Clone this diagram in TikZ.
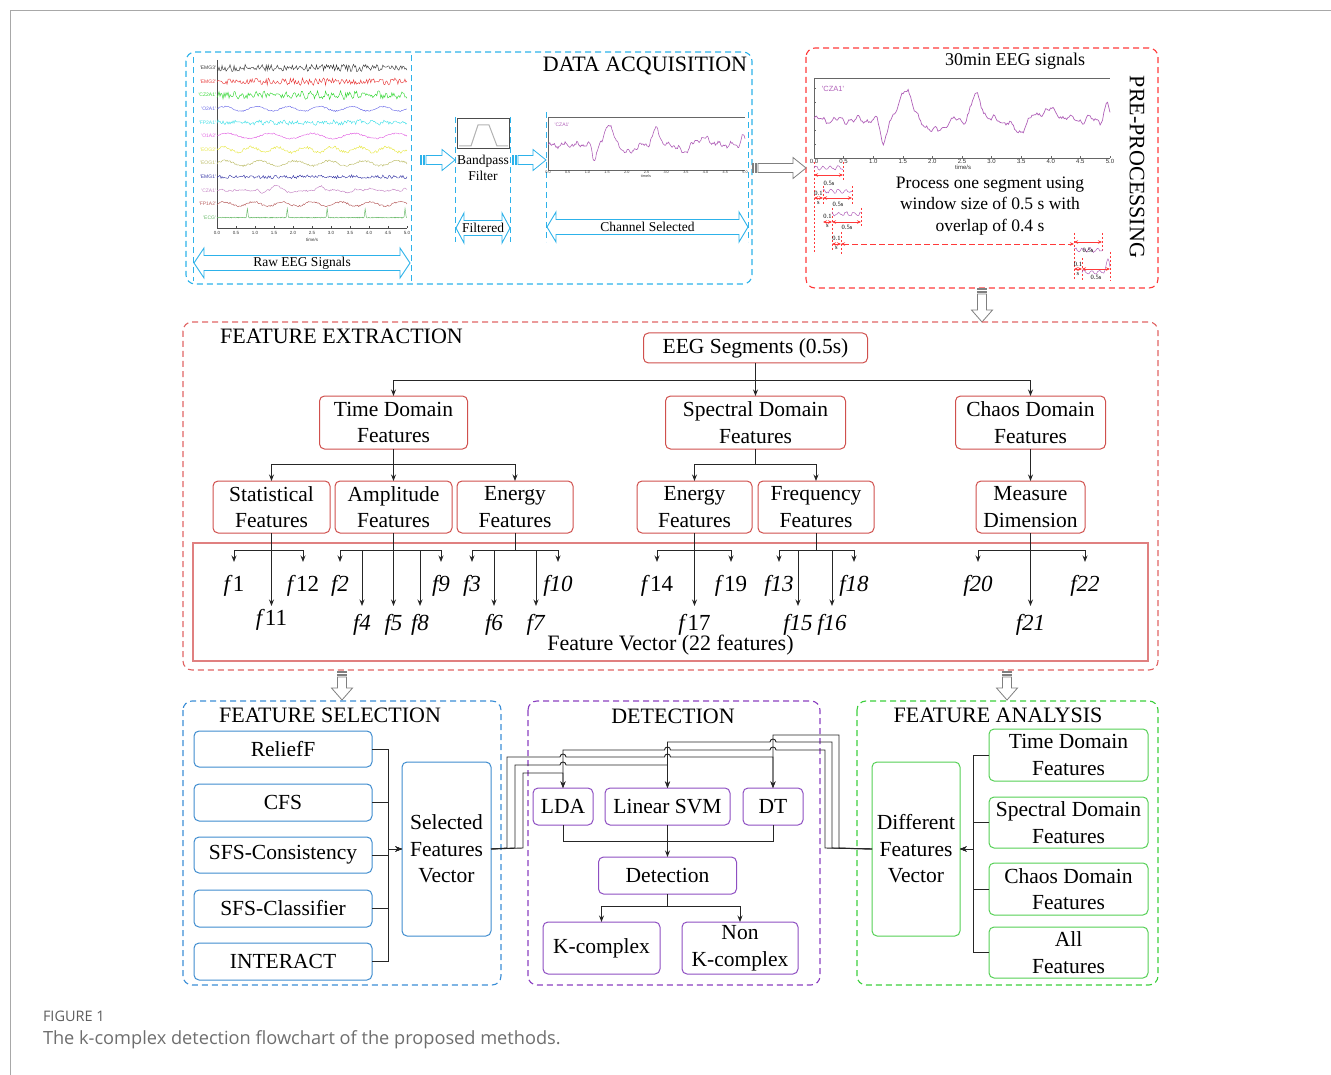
\documentclass[tikz,border=0pt]{standalone}
\usepackage{fontspec}
\setmainfont{Liberation Serif}
\newfontfamily\plotfont{Liberation Sans}
\newfontfamily\capfont{Open Sans}
\usetikzlibrary{arrows.meta}

% palette
\definecolor{acqblue}{HTML}{2DB2EA}
\definecolor{prered}{HTML}{FF3A3A}
\definecolor{extred}{HTML}{E06464}
\definecolor{boxred}{HTML}{D0504D}
\definecolor{vecred}{HTML}{E08080}
\definecolor{selblue}{HTML}{3B8ED6}
\definecolor{selbox}{HTML}{3F8CCF}
\definecolor{detpurple}{HTML}{8A3FC0}
\definecolor{detbox}{HTML}{8E4FC2}
\definecolor{anagreen}{HTML}{3CCF3C}
\definecolor{anabox}{HTML}{55D055}
\definecolor{wavepurple}{HTML}{B060B8}
\definecolor{framegray}{HTML}{A8A8A8}
\definecolor{capgray}{HTML}{6E6E6E}
\definecolor{arrowgray}{HTML}{7F7F7F}
\definecolor{ch0}{HTML}{3A3A3A}
\definecolor{ch1}{HTML}{E83C3C}
\definecolor{ch2}{HTML}{33D633}
\definecolor{ch3}{HTML}{6C6CE8}
\definecolor{ch4}{HTML}{44E0E8}
\definecolor{ch5}{HTML}{E266E2}
\definecolor{ch6}{HTML}{E8E84A}
\definecolor{ch7}{HTML}{BDBD6A}
\definecolor{ch8}{HTML}{3C3CA8}
\definecolor{ch9}{HTML}{C585C5}
\definecolor{ch10}{HTML}{B86060}
\definecolor{ch11}{HTML}{66B866}

\tikzset{
  every node/.style={inner sep=0pt, outer sep=0pt},
  box/.style={draw, rounded corners=5pt, line width=1pt, align=center, fill=white,
    font=\fontsize{21.5}{26.5}\selectfont},
  exbox/.style={box, draw=boxred},
  sbox/.style={box, draw=selbox},
  dbox/.style={box, draw=detbox},
  abox/.style={box, draw=anabox},
  conn/.style={line width=0.9pt, draw=black!85},
  arr/.style={conn, -{Stealth[length=6.5pt,width=5pt]}},
  area/.style={dash pattern=on 6pt off 4pt, line width=1.1pt, rounded corners=9pt},
  divider/.style={acqblue, line width=1pt, dash pattern=on 6pt off 4pt},
  title/.style={font=\fontsize{22}{26}\selectfont},
  flab/.style={anchor=north, font=\fontsize{23}{23}\selectfont},
  tick/.style={font=\plotfont\fontsize{4.5}{5}\selectfont, text=black!80},
  segline/.style={prered, line width=0.7pt, dash pattern=on 2.5pt off 1.5pt},
  segarr/.style={prered, line width=0.9pt, {Stealth[length=4pt,width=3.5pt]}-{Stealth[length=4pt,width=3.5pt]}},
  seglab/.style={font=\fontsize{6.5}{7}\selectfont},
  smalllab/.style={font=\fontsize{13.5}{16}\selectfont, align=center},
}

% hollow block arrow pointing right, with two bars at its tail
\newcommand{\hollowright}[4]{%
  \draw[#4, fill=white, line width=0.8pt] (#1,#3-4.5) rectangle (#1+1.6,#3+4.5);
  \draw[#4, fill=white, line width=0.8pt] (#1+3,#3-4.5) rectangle (#1+4.6,#3+4.5);
  \draw[#4, fill=white, line width=0.8pt, line join=miter] (#1+6,#3-4.5) -- (#2-13,#3-4.5)
    -- (#2-13,#3-10.5) -- (#2,#3) -- (#2-13,#3+10.5) -- (#2-13,#3+4.5) -- (#1+6,#3+4.5) -- cycle;}
% hollow block arrow pointing down, with two bars at its tail
\newcommand{\hollowdown}[4]{%
  \draw[#4, fill=white, line width=0.8pt] (#3-4.5,#1) rectangle (#3+4.5,#1+1.6);
  \draw[#4, fill=white, line width=0.8pt] (#3-4.5,#1+3) rectangle (#3+4.5,#1+4.6);
  \draw[#4, fill=white, line width=0.8pt, line join=miter] (#3-4.5,#1+6) -- (#3-4.5,#2-12)
    -- (#3-10.5,#2-12) -- (#3,#2) -- (#3+10.5,#2-12) -- (#3+4.5,#2-12) -- (#3+4.5,#1+6) -- cycle;}
% hollow double arrow with a label on its shaft
\newcommand{\dblarrow}[6]{%
  \draw[acqblue, fill=white, line width=0.9pt, line join=miter] (#2,#4) -- (#2+#6,#4-15)
    -- (#2+#6,#4-7.5) -- (#3-#6,#4-7.5) -- (#3-#6,#4-15) -- (#3,#4) -- (#3-#6,#4+15)
    -- (#3-#6,#4+7.5) -- (#2+#6,#4+7.5) -- (#2+#6,#4+15) -- cycle;
  \node[smalllab] (#1) at ({(#2+#3)/2},#4) {#5};}
% short EEG excerpt inside a window
\newcommand{\minwave}[3]{%
  \draw[wavepurple, line width=0.5pt] plot[domain=0:1, samples=28, variable=\t]
    ({#1+29*\t},{#2-1.8*sin(\t*1400+#3)-0.9*rand});}

\begin{document}
\begin{tikzpicture}[x=1pt, y=-1pt,
  declare function={
    gbz(\qz)=exp(-\qz*\qz);
    gb(\qa,\qb,\qc)=gbz(min(abs((\qa-\qb)/\qc),9));
    czw(\qt)=1.0*gb(\qt,1.55,0.13)-0.75*gb(\qt,1.17,0.06)+0.75*gb(\qt,2.75,0.12)
      -0.35*gb(\qt,2.05,0.18)-0.35*gb(\qt,3.45,0.15)+0.3*gb(\qt,3.95,0.25)
      +0.45*gb(\qt,4.95,0.06)+0.08*sin(\qt*1100)+0.05*sin(\qt*2500+30);
    ecgf(\qt)=gb(\qt,0.8,0.018)+gb(\qt,1.85,0.018)+gb(\qt,2.9,0.018)+gb(\qt,3.9,0.018)+gb(\qt,4.95,0.018);
  }]
\useasboundingbox (0,0) rectangle (1331,1075);
\pgfmathsetseed{17}

% page frame
\draw[framegray, line width=1pt] (10,1075) -- (10,11) -- (1331,11);

% ================= DATA ACQUISITION =================
\draw[area, acqblue] (186,52) rectangle (752,284);
\node[title] (tacq) at (645,66) {DATA ACQUISITION};
\draw[divider] (193,57) -- (193,281);
\draw[divider] (411,55) -- (411,281);
\draw[divider] (455,117) -- (455,242);
\draw[divider] (510,117) -- (510,242);
\draw[divider] (546,112) -- (546,242);
\draw[divider] (748,112) -- (748,242);

% raw multichannel recording
\draw[black!70, line width=0.5pt] (217,60) -- (217,228) -- (407,228);
\foreach \k/\tl in {0/0.0,1/0.5,2/1.0,3/1.5,4/2.0,5/2.5,6/3.0,7/3.5,8/4.0,9/4.5,10/5.0}{
  \draw[black!70, line width=0.4pt] (217+19*\k,228) -- (217+19*\k,226);
  \node[tick] (rtk\k) at (217+19*\k,232.5) {\tl};
}
\node[tick] (rtime) at (312,240) {time/s};
\foreach \i/\lab/\na/\sa/\fr/\cw in {0/EMG3/3.2/0.6/7/0, 1/EMG2/3.2/0.6/9/0,
   2/CZ2A1/3.0/1.5/5/0, 3/O2A1/0.6/2.2/1.2/0, 4/FP2A1/2.0/1.0/3/0, 5/O1A2/0.7/2.6/0.9/0,
   6/EOG2/1.3/2.6/1.4/0, 7/EOG1/1.0/2.4/1.1/0, 8/EMG1/1.6/0.4/6/0, 9/CZA1/0.7/0.6/2/5,
   10/FP1A2/0.9/2.2/1.3/0}{
  \draw[color=ch\i, line width=0.45pt] plot[domain=0:5, samples=190, variable=\t]
    ({217+38*\t},{68+13.6*\i-\sa*sin(\fr*\t*360)-\na*rand-\cw*czw(\t)});
  \node[anchor=east, font=\plotfont\fontsize{5}{5}\selectfont, text=ch\i] (chl\i)
    at (216,68+13.6*\i) {\textquotesingle\lab\textquotesingle};
}
\draw[color=ch11, line width=0.45pt] plot[domain=0:5, samples=401, variable=\t]
  ({217+38*\t},{217.6-9*ecgf(\t)-0.4*rand});
\node[anchor=east, font=\plotfont\fontsize{5}{5}\selectfont, text=ch11] (chl11)
  at (216,217.6) {\textquotesingle ECG\textquotesingle};
\dblarrow{rawlab}{194}{410}{263}{Raw EEG Signals}{10}

% band-pass filter
\hollowright{420}{455}{160}{acqblue}
\node[draw=black!70, line width=0.8pt, minimum width=52pt, minimum height=30pt] (bpf) at (483,133.5) {};
\draw[black!30, line width=1pt] (459,146) -- (471,146) -- (478,125) -- (489,125) -- (497,146) -- (508,146);
\node[smalllab] (bplab) at (483,168) {Bandpass\\Filter};
\dblarrow{filtlab}{456}{510}{228}{Filtered}{8}

% selected channel
\hollowright{512}{546}{160}{acqblue}
\draw[black!60, line width=0.5pt] (548,117) -- (745,117);
\draw[black!60, line width=0.5pt] (548,117) -- (548,170) -- (745,170);
\foreach \k/\tl in {0/0.0,1/0.5,2/1.0,3/1.5,4/2.0,5/2.5,6/3.0,7/3.5,8/4.0,9/4.5,10/5.0}{
  \node[tick, font=\plotfont\fontsize{3.8}{4}\selectfont] (ctk\k) at (548+19.7*\k,172.5) {\tl};
}
\node[tick, font=\plotfont\fontsize{3.8}{4}\selectfont] (ctime) at (646,176.5) {time/s};
\draw[wavepurple, line width=0.6pt] plot[domain=0:5, samples=220, variable=\t]
  ({548+39.4*\t},{145-22*czw(\t)-1.2*rand});
\node[font=\plotfont\fontsize{5}{5}\selectfont, text=wavepurple] (clab) at (562,125) {\textquotesingle CZA1\textquotesingle};
\dblarrow{chanlab}{547}{748}{227}{Channel Selected}{9}

% ================= PRE-PROCESSING =================
\draw[area, prered] (806,48) rectangle (1158,288);
\node[font=\fontsize{18}{22}\selectfont] (tmin) at (1015,61) {30min EEG signals};
\node[title, rotate=-90] (tpre) at (1137,167) {PRE-PROCESSING};
\hollowright{752}{806}{168}{arrowgray}
\draw[black!60, line width=0.5pt] (814,78) -- (1110,78);
\draw[black!60, line width=0.5pt] (814,78) -- (814,158) -- (1110,158);
\foreach \k/\tl in {0/0.0,1/0.5,2/1.0,3/1.5,4/2.0,5/2.5,6/3.0,7/3.5,8/4.0,9/4.5,10/5.0}{
  \draw[black!60, line width=0.4pt] (814+29.6*\k,158) -- (814+29.6*\k,156);
  \node[tick, font=\plotfont\fontsize{6}{6}\selectfont] (ptk\k) at (814+29.6*\k,161.5) {\tl};
}
\foreach \k in {0,...,5}{\draw[black!60, line width=0.4pt] (814,88+14*\k) -- (816,88+14*\k);}
\node[tick, font=\plotfont\fontsize{6}{6}\selectfont] (ptime) at (963,167.5) {time/s};
\draw[wavepurple, line width=0.7pt] plot[domain=0:5, samples=240, variable=\t]
  ({814+59.2*\t},{120-33*czw(\t)-1.4*rand});
\node[font=\plotfont\fontsize{7.5}{8}\selectfont, text=wavepurple] (plab) at (833,89) {\textquotesingle CZA1\textquotesingle};

% sliding windows
\draw[segline] (814,162) -- (814,254);
\draw[segline] (843,162) -- (843,180);
\minwave{814}{168}{0}
\draw[segarr] (814,175) -- (843,175);
\node[seglab] (w1) at (829,183) {0.5s};
\draw[segline] (823,186) -- (823,205);
\draw[segline] (852,186) -- (852,205);
\minwave{823}{191}{60}
\draw[segarr] (814,198) -- (823,198);
\draw[segarr] (823,198) -- (852,198);
\node[seglab] (o1a) at (818.5,193) {0.1};
\node[seglab] (o1b) at (818.5,203) {s};
\node[seglab] (w2) at (838,204) {0.5s};
\draw[segline] (832,208) -- (832,252);
\draw[segline] (861,208) -- (861,228);
\minwave{832}{214}{120}
\draw[segarr] (823,222) -- (832,222);
\draw[segarr] (832,222) -- (861,222);
\node[seglab] (o2a) at (827.5,216) {0.1};
\node[seglab] (o2b) at (827.5,226) {s};
\node[seglab] (w3) at (847,227) {0.5s};
\draw[segline] (841,232) -- (841,254);
\draw[segarr] (832,244) -- (841,244);
\node[seglab] (o3a) at (836.5,238) {0.1};
\node[seglab] (o3b) at (836.5,248) {s};
\draw[segarr, dash pattern=on 6pt off 3pt] (841,244) -- (1074,244);
\draw[segline] (1074,233) -- (1074,281);
\draw[segline] (1102,233) -- (1102,252);
\minwave{1074}{250}{30}
\draw[segarr] (1074,242) -- (1102,242);
\node[seglab] (w4) at (1088,250) {0.5s};
\draw[segline] (1082,258) -- (1082,281);
\draw[segline] (1110,252) -- (1110,281);
\draw[wavepurple, line width=0.5pt] plot[domain=0:1, samples=28, variable=\t]
  ({1082+28*\t},{272-1.5*sin(\t*1300)-0.8*rand-12*gb(\t,0.93,0.08)});
\draw[segarr] (1074,269) -- (1082,269);
\draw[segarr] (1082,269) -- (1110,269);
\node[seglab] (o4a) at (1078,264) {0.1};
\node[seglab] (o4b) at (1078,274) {s};
\node[seglab] (w5) at (1096,277) {0.5s};
\node[font=\fontsize{17.5}{21.5}\selectfont, align=center] (proc) at (990,206)
  {Process one segment using\\window size of 0.5 s with\\overlap of 0.4 s};

% ================= FEATURE EXTRACTION =================
\hollowdown{288}{322}{982}{arrowgray}
\draw[area, extred] (183,322) rectangle (1158,670);
\node[title] (text) at (341.5,336) {FEATURE EXTRACTION};
\node[draw=vecred, line width=1.2pt, minimum width=955pt, minimum height=118pt] (fvbox) at (670.5,602) {};
\node[font=\fontsize{22}{26}\selectfont] (fvlab) at (670.5,645) {Feature Vector (22 features)};

\node[exbox, minimum width=224pt, minimum height=30pt] (seg) at (755.5,348) {EEG Segments (0.5s)};
\node[exbox, minimum width=148pt, minimum height=53pt] (tdf) at (393.5,422.5) {Time Domain\\Features};
\node[exbox, minimum width=180pt, minimum height=53pt] (sdf) at (755.5,422.5) {Spectral Domain\\Features};
\node[exbox, minimum width=150pt, minimum height=53pt] (cdf) at (1030.5,422.5) {Chaos Domain\\Features};
\node[exbox, minimum width=117pt, minimum height=52pt] (stat) at (271.5,507) {Statistical\\Features};
\node[exbox, minimum width=117pt, minimum height=52pt] (ampl) at (393.5,507) {Amplitude\\Features};
\node[exbox, minimum width=116pt, minimum height=52pt] (ener) at (515,507) {Energy\\Features};
\node[exbox, minimum width=115pt, minimum height=52pt] (sener) at (694.5,507) {Energy\\Features};
\node[exbox, minimum width=116pt, minimum height=52pt] (freq) at (816,507) {Frequency\\Features};
\node[exbox, minimum width=109pt, minimum height=52pt] (meas) at (1030.5,507) {Measure\\Dimension};

\coordinate (sj) at (755.5,380);
\draw[conn] (seg.south) -- (sj);
\draw[arr] (sj) -| (tdf.north);
\draw[arr] (sj) -- (sdf.north);
\draw[arr] (sj) -| (cdf.north);
\coordinate (tj) at (393.5,464);
\draw[conn] (tdf.south) -- (tj);
\draw[arr] (tj) -| (stat.north);
\draw[arr] (tj) -- (ampl.north);
\draw[arr] (tj) -| (ener.north);
\coordinate (pj) at (755.5,464);
\draw[conn] (sdf.south) -- (pj);
\draw[arr] (pj) -| (sener.north);
\draw[arr] (pj) -| (freq.north);
\draw[arr] (cdf.south) -- (meas.north);

% the 22 features
\node[flab, text height=29pt] (f1) at (234,562) {\textit{f}1};
\node[flab, text height=29pt] (f12) at (303,562) {\textit{f}12};
\node[flab, text height=19pt] (f11) at (271.5,606) {\textit{f}11};
\node[flab, text height=29pt] (f2) at (340,562) {\textit{f2}};
\node[flab, text height=29pt] (f9) at (441,562) {\textit{f9}};
\node[flab, text height=24pt] (f4) at (362,606) {\textit{f4}};
\node[flab, text height=24pt] (f5) at (393.5,606) {\textit{f5}};
\node[flab, text height=24pt] (f8) at (420,606) {\textit{f8}};
\node[flab, text height=29pt] (f3) at (472,562) {\textit{f3}};
\node[flab, text height=29pt] (f10) at (558,562) {\textit{f10}};
\node[flab, text height=24pt] (f6) at (494,606) {\textit{f6}};
\node[flab, text height=24pt] (f7) at (536,606) {\textit{f7}};
\node[flab, text height=29pt] (f14) at (657,562) {\textit{f}14};
\node[flab, text height=29pt] (f19) at (731,562) {\textit{f}19};
\node[flab, text height=24pt] (f17) at (694.5,606) {\textit{f}17};
\node[flab, text height=29pt] (f13) at (779,562) {\textit{f13}};
\node[flab, text height=29pt] (f18) at (854,562) {\textit{f18}};
\node[flab, text height=24pt] (f15) at (798,606) {\textit{f15}};
\node[flab, text height=24pt] (f16) at (832,606) {\textit{f16}};
\node[flab, text height=29pt] (f20) at (978,562) {\textit{f20}};
\node[flab, text height=29pt] (f22) at (1085,562) {\textit{f22}};
\node[flab, text height=24pt] (f21) at (1030.5,606) {\textit{f21}};

\coordinate (js) at (271.5,550);
\draw[conn] (stat.south) -- (js);
\draw[arr] (js) -| (f1.north);
\draw[arr] (js) -| (f12.north);
\draw[arr] (js) -- (f11.north);
\coordinate (ja) at (393.5,550);
\draw[conn] (ampl.south) -- (ja);
\draw[arr] (ja) -| (f2.north);
\draw[arr] (ja) -| (f9.north);
\draw[arr] (ja) -- (f5.north);
\draw[arr] (f4.north |- ja) -- (f4.north);
\draw[arr] (f8.north |- ja) -- (f8.north);
\coordinate (je) at (515,550);
\draw[conn] (ener.south) -- (je);
\draw[arr] (je) -| (f3.north);
\draw[arr] (je) -| (f10.north);
\draw[arr] (f6.north |- je) -- (f6.north);
\draw[arr] (f7.north |- je) -- (f7.north);
\coordinate (jse) at (694.5,550);
\draw[conn] (sener.south) -- (jse);
\draw[arr] (jse) -| (f14.north);
\draw[arr] (jse) -| (f19.north);
\draw[arr] (jse) -- (f17.north);
\coordinate (jf) at (816,550);
\draw[conn] (freq.south) -- (jf);
\draw[arr] (jf) -| (f13.north);
\draw[arr] (jf) -| (f18.north);
\draw[arr] (f15.north |- jf) -- (f15.north);
\draw[arr] (f16.north |- jf) -- (f16.north);
\coordinate (jc) at (1030.5,550);
\draw[conn] (meas.south) -- (jc);
\draw[arr] (jc) -| (f20.north);
\draw[arr] (jc) -| (f22.north);
\draw[arr] (jc) -- (f21.north);

% ================= FEATURE SELECTION =================
\hollowdown{671}{700}{342}{arrowgray}
\draw[area, selblue] (183,701) rectangle (501,985);
\node[title] (tsel) at (330,715) {FEATURE SELECTION};
\node[sbox, minimum width=178pt, minimum height=36pt] (relief) at (283,749) {ReliefF};
\node[sbox, minimum width=178pt, minimum height=37pt] (cfs) at (283,802.5) {CFS};
\node[sbox, minimum width=178pt, minimum height=36pt] (sfscons) at (283,855) {SFS-Consistency};
\node[sbox, minimum width=178pt, minimum height=37pt] (sfsclass) at (283,908.5) {SFS-Classifier};
\node[sbox, minimum width=178pt, minimum height=37pt] (interact) at (283,961.5) {INTERACT};
\node[sbox, minimum width=89pt, minimum height=174pt] (sel) at (446.5,849) {Selected\\Features\\Vector};
\coordinate (selin) at (388,849);
\foreach \n in {relief,cfs,sfscons,sfsclass,interact}{
  \draw[arr] (\n.east) -| (selin) -- (sel.west);
}

% ================= DETECTION =================
\draw[area, detpurple] (528,701) rectangle (820,985);
\node[title] (tdet) at (673,716) {DETECTION};
\node[dbox, minimum width=60pt, minimum height=37pt] (lda) at (563,806.5) {LDA};
\node[dbox, minimum width=125pt, minimum height=37pt] (svm) at (667.5,806.5) {Linear SVM};
\node[dbox, minimum width=60pt, minimum height=37pt] (dt) at (773,806.5) {DT};
\node[dbox, minimum width=138pt, minimum height=37pt] (det) at (667.5,875.5) {Detection};
\node[dbox, minimum width=117pt, minimum height=52pt] (kc) at (601.5,948) {K-complex};
\node[dbox, minimum width=116pt, minimum height=52pt] (nkc) at (740,948) {Non\\K-complex};
\coordinate (dj) at (667.5,841);
\draw[conn] (lda.south) |- (dj);
\draw[conn] (dt.south) |- (dj);
\draw[arr] (svm.south) -- (det.north);
\coordinate (kj) at (667.5,906);
\draw[conn] (det.south) -- (kj);
\draw[arr] (kj) -| (kc.north);
\draw[arr] (kj) -| (nkc.north);

% ================= FEATURE ANALYSIS =================
\hollowdown{671}{700}{1007}{arrowgray}
\draw[area, anagreen] (857,701) rectangle (1158,985);
\node[title] (tana) at (998,715) {FEATURE ANALYSIS};
\node[abox, minimum width=88pt, minimum height=174pt] (diff) at (916,849) {Different\\Features\\Vector};
\node[abox, minimum width=159pt, minimum height=52pt] (tdfa) at (1068.5,755) {Time Domain\\Features};
\node[abox, minimum width=159pt, minimum height=51pt] (sdfa) at (1068.5,822.5) {Spectral Domain\\Features};
\node[abox, minimum width=159pt, minimum height=52pt] (cdfa) at (1068.5,889) {Chaos Domain\\Features};
\node[abox, minimum width=159pt, minimum height=51pt] (alla) at (1068.5,952.5) {All\\Features};
\coordinate (anain) at (973,849);
\foreach \n in {tdfa,sdfa,cdfa,alla}{
  \draw[arr] (\n.west) -| (anain) -- (diff.east);
}

% ================= classifier feeds (with line jumps) =================
\draw[arr] (sel.east) -- (507,848) -- (507,757) -- (560,757)
  arc[start angle=180, end angle=360, radius=3] -- (664.5,757)
  arc[start angle=180, end angle=360, radius=3] -- (773,757) -- (dt.north);
\draw[arr] (sel.east) -- (515,848) -- (515,765) -- (560,765)
  arc[start angle=180, end angle=360, radius=3] -- (667.5,765) -- (svm.north);
\draw[arr] (sel.east) -- (523,848) -- (523,773) -- (563,773) -- (lda.north);
\draw[arr] (diff.west) -- (839,848) -- (839,735) -- (773,735) -- (dt.north);
\draw[arr] (diff.west) -- (832,848) -- (832,742) -- (776,742)
  arc[start angle=0, end angle=-180, radius=3] -- (667.5,742) -- (svm.north);
\draw[arr] (diff.west) -- (825,848) -- (825,750) -- (776,750)
  arc[start angle=0, end angle=-180, radius=3] -- (670.5,750)
  arc[start angle=0, end angle=-180, radius=3] -- (563,750) -- (lda.north);

% ================= caption =================
\node[anchor=base west, font=\capfont\fontsize{14.5}{15}\selectfont, text=capgray!85!black] (figno) at (43,1021) {FIGURE 1};
\node[anchor=base west, font=\capfont\fontsize{18.2}{20}\selectfont, text=capgray] (figcap) at (43,1044) {The k-complex detection flowchart of the proposed methods.};
\end{tikzpicture}
\end{document}
